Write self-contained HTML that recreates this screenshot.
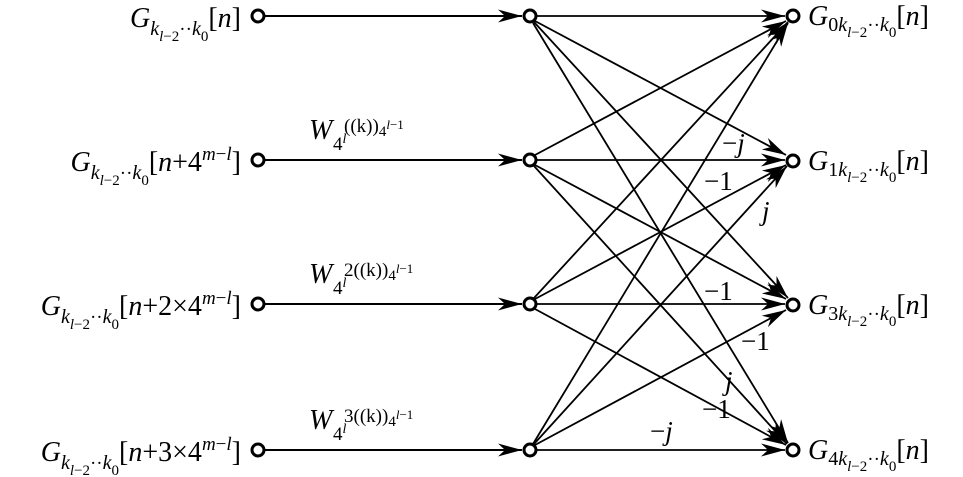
<!DOCTYPE html>
<html><head><meta charset="utf-8"><style>
html,body{margin:0;padding:0;background:#fff;}
svg{display:block;font-family:"Liberation Serif",serif;}
text{fill:#000;}
.i{font-style:italic;}
</style></head><body>
<svg width="963" height="477" viewBox="0 0 963 477" xmlns="http://www.w3.org/2000/svg">
<defs>
<marker id="a" markerWidth="24" markerHeight="13" refX="24" refY="6.5" orient="auto" markerUnits="userSpaceOnUse">
<path d="M0,0 L24,6.5 L0,13 L7,6.5 Z" fill="#000"/>
</marker>
</defs>
<g stroke="#000" stroke-width="2" fill="none">
<line x1="265" y1="16" x2="522" y2="16" marker-end="url(#a)"/>
<line x1="265" y1="160" x2="522" y2="160" marker-end="url(#a)"/>
<line x1="265" y1="304" x2="522" y2="304" marker-end="url(#a)"/>
<line x1="265" y1="450" x2="522" y2="450" marker-end="url(#a)"/>
<g stroke-width="1.8">
<line x1="536" y1="16" x2="785" y2="16" marker-end="url(#a)"/>
<line x1="535" y1="21" x2="786" y2="155" marker-end="url(#a)"/>
<line x1="534" y1="22" x2="788" y2="298" marker-end="url(#a)"/>
<line x1="533" y1="23" x2="788" y2="443" marker-end="url(#a)"/>
<line x1="535" y1="155" x2="786" y2="21" marker-end="url(#a)"/>
<line x1="536" y1="160" x2="785" y2="160" marker-end="url(#a)"/>
<line x1="535" y1="165" x2="786" y2="299" marker-end="url(#a)"/>
<line x1="534" y1="166" x2="787" y2="444" marker-end="url(#a)"/>
<line x1="534" y1="298" x2="788" y2="22" marker-end="url(#a)"/>
<line x1="535" y1="299" x2="786" y2="165" marker-end="url(#a)"/>
<line x1="536" y1="304" x2="785" y2="304" marker-end="url(#a)"/>
<line x1="535" y1="309" x2="786" y2="445" marker-end="url(#a)"/>
<line x1="533" y1="444" x2="788" y2="23" marker-end="url(#a)"/>
<line x1="534" y1="444" x2="787" y2="166" marker-end="url(#a)"/>
<line x1="535" y1="445" x2="786" y2="310" marker-end="url(#a)"/>
<line x1="536" y1="450" x2="785" y2="450" marker-end="url(#a)"/>
</g>
<g stroke-width="3" fill="#fff">
<circle cx="258" cy="16" r="6"/><circle cx="258" cy="160" r="6"/><circle cx="258" cy="304" r="6"/><circle cx="258" cy="450" r="6"/>
<circle cx="530" cy="16" r="6"/><circle cx="530" cy="160" r="6"/><circle cx="530" cy="304" r="6"/><circle cx="530" cy="450" r="6"/>
<circle cx="793" cy="16" r="6"/><circle cx="793" cy="161" r="6"/><circle cx="793" cy="305" r="6"/><circle cx="793" cy="450" r="6"/>
</g>
</g>
<g font-size="28">
<text x="241" y="27" text-anchor="end"><tspan class="i">G</tspan><tspan font-size="20" dy="8" class="i">k</tspan><tspan font-size="15" dy="6" class="i">l</tspan><tspan font-size="15">−2</tspan><tspan font-size="19" dy="-6">··</tspan><tspan font-size="20" class="i">k</tspan><tspan font-size="15" dy="6">0</tspan><tspan dy="-14">[</tspan><tspan class="i">n</tspan>]</text>
<text x="241" y="171" text-anchor="end"><tspan class="i">G</tspan><tspan font-size="20" dy="8" class="i">k</tspan><tspan font-size="15" dy="6" class="i">l</tspan><tspan font-size="15">−2</tspan><tspan font-size="19" dy="-6">··</tspan><tspan font-size="20" class="i">k</tspan><tspan font-size="15" dy="6">0</tspan><tspan dy="-14">[</tspan><tspan class="i">n</tspan>+4<tspan font-size="19" dy="-11" class="i">m</tspan><tspan font-size="19">−</tspan><tspan font-size="19" class="i">l</tspan><tspan dy="11">]</tspan></text>
<text x="241" y="315" text-anchor="end"><tspan class="i">G</tspan><tspan font-size="20" dy="8" class="i">k</tspan><tspan font-size="15" dy="6" class="i">l</tspan><tspan font-size="15">−2</tspan><tspan font-size="19" dy="-6">··</tspan><tspan font-size="20" class="i">k</tspan><tspan font-size="15" dy="6">0</tspan><tspan dy="-14">[</tspan><tspan class="i">n</tspan>+2×4<tspan font-size="19" dy="-11" class="i">m</tspan><tspan font-size="19">−</tspan><tspan font-size="19" class="i">l</tspan><tspan dy="11">]</tspan></text>
<text x="241" y="461" text-anchor="end"><tspan class="i">G</tspan><tspan font-size="20" dy="8" class="i">k</tspan><tspan font-size="15" dy="6" class="i">l</tspan><tspan font-size="15">−2</tspan><tspan font-size="19" dy="-6">··</tspan><tspan font-size="20" class="i">k</tspan><tspan font-size="15" dy="6">0</tspan><tspan dy="-14">[</tspan><tspan class="i">n</tspan>+3×4<tspan font-size="19" dy="-11" class="i">m</tspan><tspan font-size="19">−</tspan><tspan font-size="19" class="i">l</tspan><tspan dy="11">]</tspan></text>

<text x="309" y="139" class="i">W</text>
<text x="344" y="132" font-size="19">((k))<tspan font-size="15" dy="4">4</tspan><tspan font-size="13" dy="-7" class="i">l</tspan><tspan font-size="13">−1</tspan></text>
<text x="333" y="150" font-size="19">4<tspan font-size="14" dy="-7" class="i">l</tspan></text>

<text x="309" y="283" class="i">W</text>
<text x="344" y="276" font-size="19">2((k))<tspan font-size="15" dy="4">4</tspan><tspan font-size="13" dy="-7" class="i">l</tspan><tspan font-size="13">−1</tspan></text>
<text x="333" y="294" font-size="19">4<tspan font-size="14" dy="-7" class="i">l</tspan></text>

<text x="309" y="429" class="i">W</text>
<text x="344" y="422" font-size="19">3((k))<tspan font-size="15" dy="4">4</tspan><tspan font-size="13" dy="-7" class="i">l</tspan><tspan font-size="13">−1</tspan></text>
<text x="333" y="440" font-size="19">4<tspan font-size="14" dy="-7" class="i">l</tspan></text>

<text x="808" y="25"><tspan class="i">G</tspan><tspan font-size="20" dy="6">0</tspan><tspan font-size="20" class="i">k</tspan><tspan font-size="15" dy="6" class="i">l</tspan><tspan font-size="15">−2</tspan><tspan font-size="19" dy="-6">··</tspan><tspan font-size="20" class="i">k</tspan><tspan font-size="15" dy="6">0</tspan><tspan dy="-12">[</tspan><tspan class="i">n</tspan>]</text>
<text x="808" y="170"><tspan class="i">G</tspan><tspan font-size="20" dy="6">1</tspan><tspan font-size="20" class="i">k</tspan><tspan font-size="15" dy="6" class="i">l</tspan><tspan font-size="15">−2</tspan><tspan font-size="19" dy="-6">··</tspan><tspan font-size="20" class="i">k</tspan><tspan font-size="15" dy="6">0</tspan><tspan dy="-12">[</tspan><tspan class="i">n</tspan>]</text>
<text x="808" y="314"><tspan class="i">G</tspan><tspan font-size="20" dy="6">3</tspan><tspan font-size="20" class="i">k</tspan><tspan font-size="15" dy="6" class="i">l</tspan><tspan font-size="15">−2</tspan><tspan font-size="19" dy="-6">··</tspan><tspan font-size="20" class="i">k</tspan><tspan font-size="15" dy="6">0</tspan><tspan dy="-12">[</tspan><tspan class="i">n</tspan>]</text>
<text x="808" y="459"><tspan class="i">G</tspan><tspan font-size="20" dy="6">4</tspan><tspan font-size="20" class="i">k</tspan><tspan font-size="15" dy="6" class="i">l</tspan><tspan font-size="15">−2</tspan><tspan font-size="19" dy="-6">··</tspan><tspan font-size="20" class="i">k</tspan><tspan font-size="15" dy="6">0</tspan><tspan dy="-12">[</tspan><tspan class="i">n</tspan>]</text>

<g font-size="27">
<text x="722" y="152">−<tspan class="i">j</tspan></text>
<text x="704" y="190">−1</text>
<text x="762" y="220" class="i">j</text>
<text x="704" y="300">−1</text>
<text x="741" y="350">−1</text>
<text x="725" y="390" class="i">j</text>
<text x="702" y="418">−1</text>
<text x="650" y="440">−<tspan class="i">j</tspan></text>
</g>
</g>
</svg>
</body></html>
